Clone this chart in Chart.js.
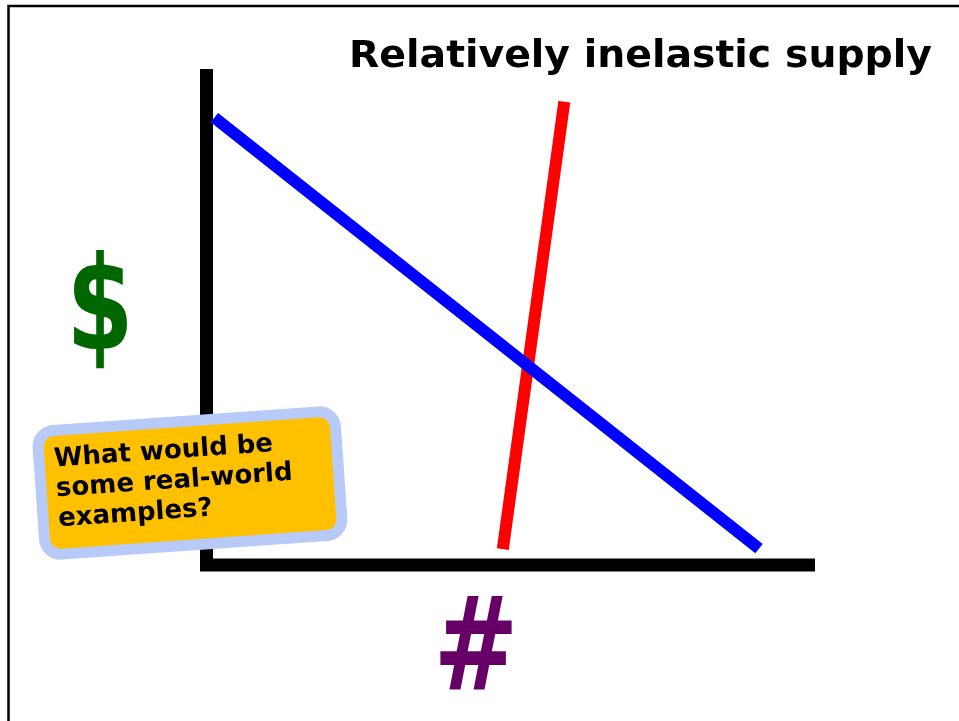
<!DOCTYPE html>
<html>
<head>
<meta charset="utf-8">
<script src="https://cdn.jsdelivr.net/npm/chart.js@4"></script>
<style>
html,body{margin:0;padding:0;background:#fff;}
#wrap{position:relative;width:959px;height:721px;}
canvas{display:block;}
</style>
</head>
<body>
<div id="wrap"><canvas id="c" width="959" height="721"></canvas></div>
<script>
// ---- data ----
const titleText = "Relatively inelastic supply";
const yAxisLabel = "$";
const xAxisLabel = "#";
const calloutLines = ["What would be", "some real-world", "examples?"];
const demandX = [1.3, 90.8];
const demandY = [90.2, 3.3];
const supplyX = [58.8, 48.7];
const supplyY = [93.4, 3.2];

const toPts = (xs, ys) => xs.map((x, i) => ({x: x, y: ys[i]}));

function fitText(ctx, text, xRight, baseline, width) {
  const m = ctx.measureText(text).width;
  ctx.save();
  ctx.translate(xRight - width, baseline);
  ctx.scale(width / m, 1);
  ctx.textAlign = 'left';
  ctx.fillText(text, 0, 0);
  ctx.restore();
}

function glyph(ctx, text, cx, baseline, sx) {
  ctx.save();
  ctx.translate(cx, baseline);
  ctx.scale(sx, 1);
  ctx.textAlign = 'center';
  ctx.fillText(text, 0, 0);
  ctx.restore();
}

const decor = {
  id: 'decor',
  beforeDatasetsDraw(chart) {
    const ctx = chart.ctx, a = chart.chartArea;
    ctx.save();
    // page frame
    ctx.strokeStyle = '#000';
    ctx.lineWidth = 2.5;
    ctx.beginPath();
    ctx.moveTo(8.5, 730);
    ctx.lineTo(8.5, 6);
    ctx.lineTo(970, 6);
    ctx.stroke();
    // axes
    ctx.lineWidth = 13;
    ctx.lineCap = 'butt';
    ctx.beginPath();
    ctx.moveTo(a.left, a.top);
    ctx.lineTo(a.left, a.bottom + 6.5);
    ctx.moveTo(a.left - 6.5, a.bottom);
    ctx.lineTo(a.right, a.bottom);
    ctx.stroke();
    ctx.restore();
  },
  afterDraw(chart) {
    const ctx = chart.ctx;
    ctx.save();
    ctx.textBaseline = 'alphabetic';
    // title
    ctx.fillStyle = '#000';
    ctx.font = 'bold 37px "DejaVu Sans"';
    fitText(ctx, titleText, 932, 67, 583);
    // $ label
    ctx.fillStyle = '#006600';
    ctx.font = 'bold 130px "DejaVu Sans"';
    glyph(ctx, yAxisLabel, 100, 349, 0.74);
    // # label
    ctx.fillStyle = '#660066';
    ctx.font = 'bold 130px "DejaVu Sans"';
    glyph(ctx, xAxisLabel, 476, 689, 0.78);
    // callout
    ctx.translate(190, 483);
    ctx.rotate(-4 * Math.PI / 180);
    const w = 298, h = 124, r = 16;
    ctx.beginPath();
    ctx.roundRect(-w / 2, -h / 2, w, h, r);
    ctx.fillStyle = '#FFC000';
    ctx.fill();
    ctx.lineWidth = 11;
    ctx.strokeStyle = '#B8CBF8';
    ctx.stroke();
    ctx.fillStyle = '#000';
    ctx.font = 'bold 26px "DejaVu Sans"';
    ctx.textAlign = 'left';
    calloutLines.forEach((t, i) => ctx.fillText(t, -134, -26 + i * 30));
    ctx.restore();
  }
};

new Chart(document.getElementById('c'), {
  type: 'scatter',
  data: {
    datasets: [
      {label: 'Demand', data: toPts(demandX, demandY), showLine: true, borderColor: '#0000FF', borderWidth: 12, pointRadius: 0, borderCapStyle: 'butt'},
      {label: 'Supply', data: toPts(supplyX, supplyY), showLine: true, borderColor: '#FF0000', borderWidth: 12, pointRadius: 0, borderCapStyle: 'butt'}
    ]
  },
  options: {
    responsive: false,
    animation: false,
    layout: {padding: {left: 206.5, right: 144, top: 69, bottom: 156}},
    scales: {
      x: {type: 'linear', min: 0, max: 100, display: false},
      y: {type: 'linear', min: 0, max: 100, display: false}
    },
    plugins: {legend: {display: false}, tooltip: {enabled: false}, title: {display: false}}
  },
  plugins: [decor]
});
</script>
</body>
</html>
